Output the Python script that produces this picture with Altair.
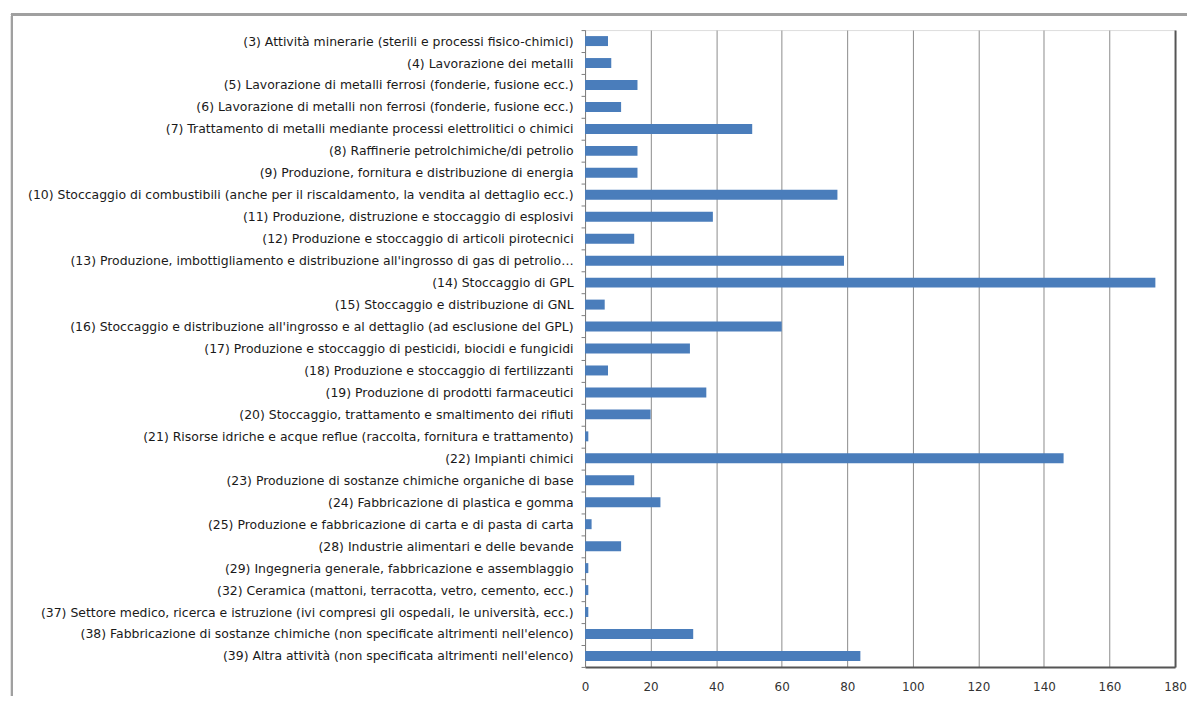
import altair as alt
import pandas as pd

categories = [
    "(3) Attività minerarie (sterili e processi fisico-chimici)",
    "(4) Lavorazione dei metalli",
    "(5) Lavorazione di metalli ferrosi (fonderie, fusione ecc.)",
    "(6) Lavorazione di metalli non ferrosi (fonderie, fusione ecc.)",
    "(7) Trattamento di metalli mediante processi elettrolitici o chimici",
    "(8) Raffinerie petrolchimiche/di petrolio",
    "(9) Produzione, fornitura e distribuzione di energia",
    "(10) Stoccaggio di combustibili (anche per il riscaldamento, la vendita al dettaglio ecc.)",
    "(11) Produzione, distruzione e stoccaggio di esplosivi",
    "(12) Produzione e stoccaggio di articoli pirotecnici",
    "(13) Produzione, imbottigliamento e distribuzione all'ingrosso di gas di petrolio…",
    "(14) Stoccaggio di GPL",
    "(15) Stoccaggio e distribuzione di GNL",
    "(16) Stoccaggio e distribuzione all'ingrosso e al dettaglio (ad esclusione del GPL)",
    "(17) Produzione e stoccaggio di pesticidi, biocidi e fungicidi",
    "(18) Produzione e stoccaggio di fertilizzanti",
    "(19) Produzione di prodotti farmaceutici",
    "(20) Stoccaggio, trattamento e smaltimento dei rifiuti",
    "(21) Risorse idriche e acque reflue (raccolta, fornitura e trattamento)",
    "(22) Impianti chimici",
    "(23) Produzione di sostanze chimiche organiche di base",
    "(24) Fabbricazione di plastica e gomma",
    "(25) Produzione e fabbricazione di carta e di pasta di carta",
    "(28) Industrie alimentari e delle bevande",
    "(29) Ingegneria generale, fabbricazione e assemblaggio",
    "(32) Ceramica (mattoni, terracotta, vetro, cemento, ecc.)",
    "(37) Settore medico, ricerca e istruzione (ivi compresi gli ospedali, le università, ecc.)",
    "(38) Fabbricazione di sostanze chimiche (non specificate altrimenti nell'elenco)",
    "(39) Altra attività (non specificata altrimenti nell'elenco)",
]
values = [7, 8, 16, 11, 51, 16, 16, 77, 39, 15, 79, 174, 6, 60, 32,
          7, 37, 20, 1, 146, 15, 23, 2, 11, 1, 1, 1, 33, 84]
x_ticks = [0, 20, 40, 60, 80, 100, 120, 140, 160, 180]

df = pd.DataFrame({"categoria": categories, "valore": values})

bars = alt.Chart(df).mark_bar(size=10, color="#4a7dbb").encode(
    x=alt.X(
        "valore:Q",
        scale=alt.Scale(domain=[0, 180], nice=False, zero=True),
        axis=alt.Axis(
            values=x_ticks,
            title=None,
            grid=True,
            gridColor=alt.condition("datum.value === 180", alt.value("#555555"), alt.value("#8c8c8c")),
            gridWidth=alt.condition("datum.value === 180", alt.value(2), alt.value(1)),
            ticks=False,
            domainColor="#555555",
            domainWidth=2,
            labelFont="DejaVu Sans",
            labelFontSize=12,
            labelColor="#333333",
            labelPadding=15,
            labelFlush=False,
            labelOverlap=False,
        ),
    ),
    y=alt.Y(
        "categoria:N",
        sort=None,
        scale=alt.Scale(paddingInner=0, paddingOuter=0),
        axis=alt.Axis(
            title=None,
            tickBand="extent",
            tickSize=4,
            tickColor="#7f7f7f",
            domainColor="#7f7f7f",
            domainWidth=1,
            labelFont="DejaVu Sans",
            labelFontSize=12.5,
            labelColor="#1a1a1a",
            labelPadding=8,
            labelLimit=700,
        ),
    ),
)

border = alt.Chart(df).mark_rect(
    fill=None, stroke="#a0a0a0", strokeWidth=2
).encode(
    x=alt.value(-575), x2=alt.value(640),
    y=alt.value(-16), y2=alt.value(720),
)

chart = alt.layer(border, bars).properties(
    width=592,
    height=639,
    padding={"left": 579, "top": 21, "right": 12, "bottom": 28},
    autosize=alt.AutoSizeParams(type="none"),
).configure_view(
    stroke="#8c8c8c", strokeWidth=1
).configure(background="white")

chart.save("out.html", embed_options={"renderer": "svg", "actions": False})
